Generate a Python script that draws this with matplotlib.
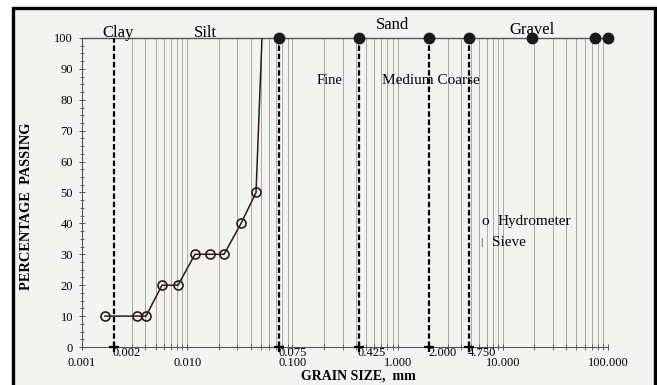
import numpy as np
import matplotlib
matplotlib.use('Agg')
from matplotlib import pyplot as plt
from matplotlib.patches import Rectangle

plt.rcParams['font.family'] = ['Liberation Serif', 'DejaVu Serif']

# hydrometer readings (grain size in mm, percent passing)
hyd_size = [0.00165, 0.00333, 0.00406, 0.00576, 0.00818, 0.01186, 0.01648, 0.0224, 0.0325, 0.0451]
hyd_pass = [10, 10, 10, 20, 20, 30, 30, 30, 40, 50]
curve_top_size = 0.0514
curve_top_pass = 100

# sieve readings
sieve_size = [0.075, 0.425, 2.0, 4.75, 19.0, 75.0, 100.0]
sieve_pass = [100, 100, 100, 100, 100, 100, 100]

# soil class boundaries
bounds = [0.002, 0.075, 0.425, 2.0, 4.75]
bound_labels = ['0.002', '0.075', '0.425', '2.000', '4.750']
decades = [0.001, 0.01, 0.1, 1.0, 10.0, 100.0]
decade_labels = ['0.001', '0.010', '0.100', '1.000', '10.000', '100.000']
y_ticks = list(range(0, 101, 10))

fig = plt.figure(figsize=(6.57, 3.85), dpi=100)
fig.patch.set_facecolor('white')
frame = Rectangle((13 / 657, -0.02), (655 - 13) / 657, (385 - 8) / 385 + 0.02,
                  transform=fig.transFigure, facecolor='#f3f3f1',
                  edgecolor='black', linewidth=2.4, zorder=-5)
fig.add_artist(frame)

ax = fig.add_axes([82 / 657, (385 - 347) / 385, (608 - 82) / 657, (347 - 38) / 385])
ax.set_zorder(2)
ax.set_facecolor('none')
ax.set_xscale('log')
ax.set_xlim(0.001, 100)
ax.set_ylim(0, 100)

# log paper grid
grid = [m * 10.0 ** e for e in range(-3, 2) for m in range(2, 10)] + decades[1:]
for g in grid:
    if g not in bounds:
        ax.plot([g, g], [0, 100], color='#9c9c9c', lw=0.6, zorder=1)

for b in bounds:
    ax.plot([b, b], [0, 100], color='black', lw=1.6, ls=(0, (2.5, 1.2)), zorder=3)
    ax.plot(b, 0, marker='+', color='black', ms=7, mew=1.6, zorder=4, clip_on=False)

ax.plot(hyd_size + [curve_top_size], hyd_pass + [curve_top_pass], color='#2a1a1a', lw=1.1, zorder=4)
ax.plot(hyd_size, hyd_pass, 'o', mfc='none', mec='#2a1a1a', ms=6.5, mew=1.2, zorder=5)
ax.plot(sieve_size, sieve_pass, 'o', color='#1a1a1a', ms=7.5, zorder=5, clip_on=False)

ax.spines['right'].set_visible(False)
ax.spines['top'].set_color('#555555')
ax.spines['top'].set_linewidth(1.0)
for s in ['left', 'bottom']:
    ax.spines[s].set_color('#555555')
    ax.spines[s].set_linewidth(0.8)

ax.set_yticks(y_ticks)
ax.set_yticklabels([str(v) for v in y_ticks], fontsize=9)
ax.set_yticks(np.arange(0, 100, 2.5), minor=True)
ax.tick_params(axis='y', which='major', direction='inout', length=5, width=0.7, pad=4, color='#555555')
ax.tick_params(axis='y', which='minor', direction='inout', length=3, width=0.6, color='#555555')

ax.set_xticks(decades)
ax.set_xticklabels(decade_labels, fontsize=9)
ax.set_xticks(grid, minor=True)
ax.tick_params(axis='x', which='major', direction='inout', length=4, width=0.7, pad=5.5, color='#555555')
ax.tick_params(axis='x', which='minor', direction='inout', length=4, width=0.6, color='#555555')
ax.xaxis.set_minor_formatter(plt.NullFormatter())

for b, lab in zip(bounds, bound_labels):
    ax.text(b * 0.98, -0.1, lab, fontsize=9, ha='left', va='top')

ax.set_xlabel('GRAIN SIZE,  mm', fontsize=10, fontweight='bold')
ax.xaxis.set_label_coords((358 - 82) / (608 - 82), -(370 - 347) / (347 - 38))
ax.set_ylabel('PERCENTAGE  PASSING', fontsize=10.4, fontweight='bold')
ax.yaxis.set_label_coords(-(82 - 33) / (608 - 82), (347 - 206) / (347 - 38))

# soil class names
ax.text(0.0022, 100.4, 'Clay', fontsize=12, ha='center', va='baseline')
ax.text(0.0148, 100.4, 'Silt', fontsize=12, ha='center', va='baseline')
ax.text(0.885, 103.0, 'Sand', fontsize=12, ha='center', va='baseline')
ax.text(18.9, 101.4, 'Gravel', fontsize=12, ha='center', va='baseline')
ax.text(0.227, 86.4, 'Fine', fontsize=10.5, ha='center', va='center')
ax.text(2.05, 86.4, 'Medium Coarse', fontsize=11, ha='center', va='center')

ax.text(6.77, 40.5, 'o', fontsize=11, ha='center', va='center')
ax.text(9.0, 40.5, 'Hydrometer', fontsize=11, ha='left', va='center')
ax.text(6.3, 33.7, '|', fontsize=8, ha='center', va='center')
ax.text(7.9, 33.7, 'Sieve', fontsize=11, ha='left', va='center')

plt.savefig('out.png', dpi=100)
